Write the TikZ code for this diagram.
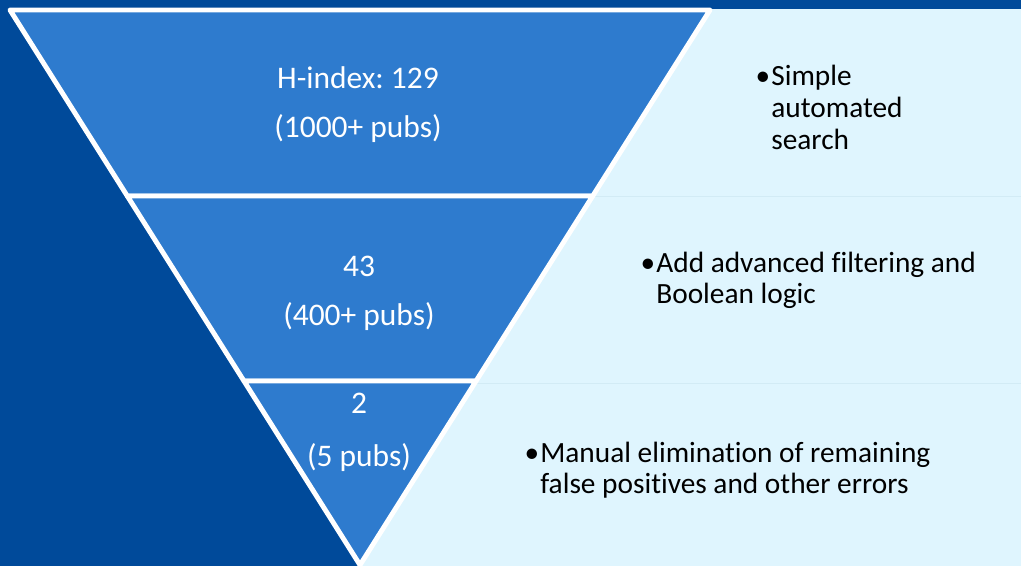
\documentclass[tikz,border=0pt]{standalone}
\usepackage{fontspec}
\setmainfont{Carlito}[Ligatures={NoCommon}]
\frenchspacing
\usetikzlibrary{calc}
\definecolor{bgdark}{HTML}{004A9A}
\definecolor{funnelblue}{HTML}{2E7BCE}
\definecolor{panelcyan}{HTML}{DFF5FE}
\definecolor{panelline}{HTML}{D2EBF5}
\tikzset{
  section/.style={fill=funnelblue, draw=white, line width=2.8pt, line join=round},
  countlabel/.style={text=white, font=\fontsize{17.9}{20}\selectfont, inner sep=0pt, anchor=base},
  notetext/.style={text=black, font=\fontsize{16.7}{18}\selectfont, inner sep=0pt, anchor=base west},
  bulletmark/.style={text=black, font=\fontsize{16.7}{18}\selectfont, inner sep=0pt, anchor=base east},
}
\begin{document}
\begin{tikzpicture}[x=0.02cm,y=-0.02cm]
\useasboundingbox (0,0) rectangle (1021,566);
% background
\fill[bgdark] (0,0) rectangle (1021,566);
% right panels
\fill[panelcyan] (360,9) rectangle (1021,566);
\draw[panelline, line width=0.5pt] (500,196) -- (1021,196);
\draw[panelline, line width=0.5pt] (400,383) -- (1021,383);
% funnel geometry
\coordinate (TL) at (10,10);
\coordinate (TR) at (710,10);
\coordinate (AP) at (360,565);
\coordinate (L1) at ($(TL)!0.3351!(AP)$);
\coordinate (R1) at ($(TR)!0.3351!(AP)$);
\coordinate (L2) at ($(TL)!0.6685!(AP)$);
\coordinate (R2) at ($(TR)!0.6685!(AP)$);
\draw[section] (TL) -- (TR) -- (R1) -- (L1) -- cycle;
\draw[section] (L1) -- (R1) -- (R2) -- (L2) -- cycle;
\draw[section] (L2) -- (R2) -- (AP) -- cycle;
% funnel labels
\node[countlabel] (h1) at (358,88) {H-index: 129};
\node[countlabel] (p1) at (358,137) {(1000+ pubs)};
\node[countlabel] (h2) at (359,276) {43};
\node[countlabel] (p2) at (359,325) {(400+ pubs)};
\node[countlabel] (h3) at (359,413) {2};
\node[countlabel] (p3) at (359,466) {(5 pubs)};
% notes
\node[bulletmark] (b1) at (770.5,85) {•};
\node[notetext] (n1a) at (771,85) {Simple};
\node[notetext] (n1b) at (771,117) {automated};
\node[notetext] (n1c) at (771,149) {search};
\node[bulletmark] (b2) at (655.5,272) {•};
\node[notetext] (n2a) at (656,272) {Add advanced filtering and};
\node[notetext] (n2b) at (656,303) {Boolean logic};
\node[bulletmark] (b3) at (539.5,462) {•};
\node[notetext] (n3a) at (540,462) {Manual elimination of remaining};
\node[notetext] (n3b) at (540,493) {false positives and other errors};
\end{tikzpicture}
\end{document}
